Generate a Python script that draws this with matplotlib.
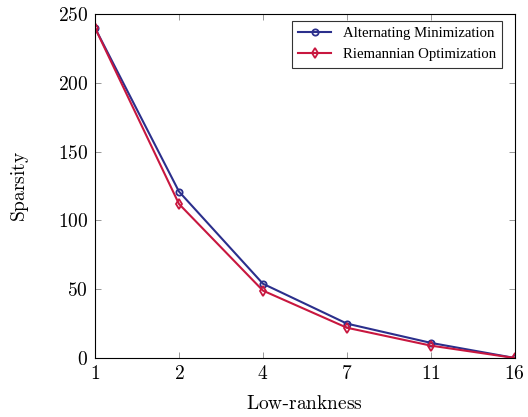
import numpy as np
import matplotlib.pyplot as plt

plt.rcParams['mathtext.fontset'] = 'cm'
plt.rcParams['font.family'] = 'serif'
plt.rcParams['font.serif'] = ['Liberation Serif', 'DejaVu Serif']

# Данные
ranks = ['1', '2', '4', '7', '11', '16']
alt_min = [240, 121, 54, 25, 11, 0]
riem_opt = [240, 112, 49, 22, 9, 0]

x = np.arange(len(ranks))

fig = plt.figure(figsize=(5.28, 4.17), dpi=100)
ax = fig.add_axes([0.180, 0.1415, 0.795, 0.8245])

ax.plot(x, alt_min, color='#2b2f8c', lw=1.5, marker='o', ms=4.5, mfc='none',
        mew=1.3, label='Alternating Minimization')
ax.plot(x, riem_opt, color='#c8173f', lw=1.5, marker='d', ms=5.5, mfc='none',
        mew=1.3, label='Riemannian Optimization')

ax.set_xlim(0, len(ranks) - 1)
ax.set_ylim(0, 250)
ax.set_xticks(x)
ax.set_xticklabels(['$%s$' % r for r in ranks])
ax.set_yticks([0, 50, 100, 150, 200, 250])
ax.set_yticklabels(['$%d$' % v for v in [0, 50, 100, 150, 200, 250]])
ax.tick_params(direction='in', top=True, right=True, length=4, width=0.6,
               color='#888888', labelsize=14, pad=5)
for s in ax.spines.values():
    s.set_linewidth(0.8)

ax.set_xlabel(r'$\mathrm{Low}$-$\mathrm{rankness}$', fontsize=14, labelpad=9)
ax.set_ylabel(r'$\mathrm{Sparsity}$', fontsize=14, labelpad=19)

leg = ax.legend(loc='upper right', bbox_to_anchor=(0.988, 1.003), fontsize=10.6,
                frameon=True, fancybox=False, edgecolor='black',
                handlelength=2.2, borderpad=0.45, labelspacing=0.5)
leg.get_frame().set_linewidth(0.8)

plt.savefig('out.png', dpi=100)
